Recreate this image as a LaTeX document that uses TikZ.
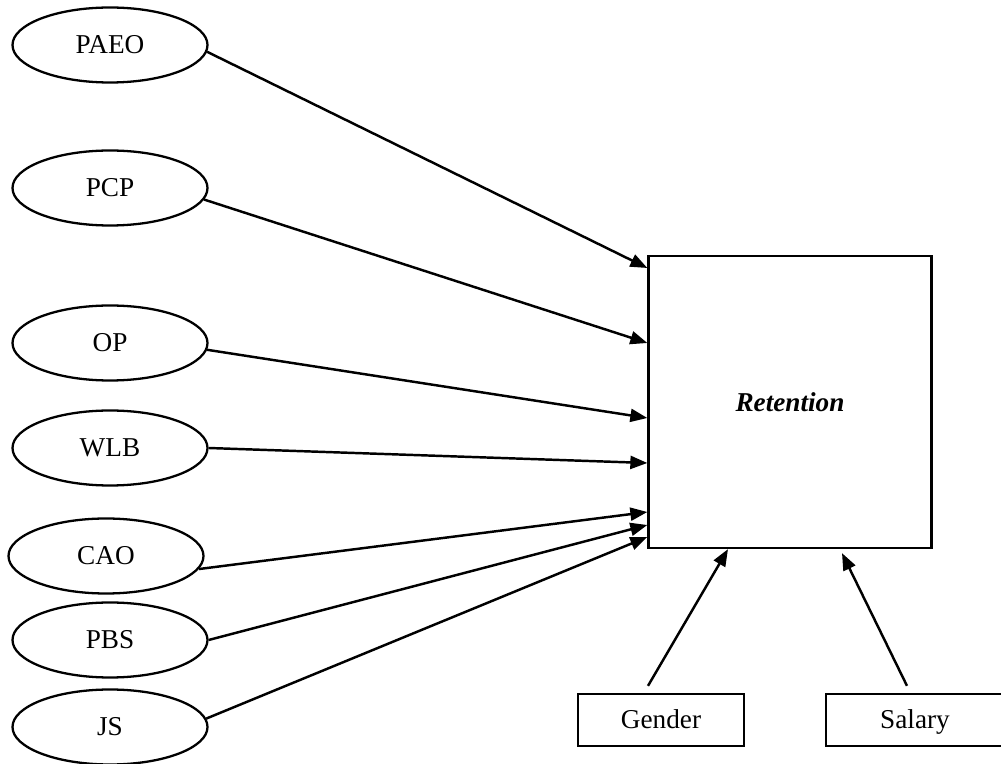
\documentclass[tikz,border=0pt]{standalone}
\usepackage{fontspec}
\setmainfont{Liberation Serif}
\usetikzlibrary{shapes.geometric,arrows.meta}

\begin{document}
\begin{tikzpicture}[
    every node/.style={font=\fontsize{15.5}{18}\selectfont},
    construct/.style={ellipse, draw=black, line width=1.3pt, minimum width=3.9cm, minimum height=1.5cm, inner sep=0pt},
    ctrl/.style={rectangle, draw=black, line width=1.3pt, minimum height=1.04cm, inner sep=0pt, text height=10.2pt, text depth=0pt},
    path/.style={line width=1.4pt, -{Triangle[length=0.34cm,width=0.26cm]}}
  ]
  \useasboundingbox (0,0) rectangle (20.02,15.26);

  \foreach \x\y\n in {2.2/14.36/PAEO,2.2/11.5/PCP,2.2/8.4/OP,2.2/6.3/WLB,2.12/4.14/CAO,2.2/2.46/PBS,2.2/0.72/JS} {
    \node[construct] (\n) at (\x,\y) {\n};
  }

  \node[rectangle, draw=black, line width=1.3pt, minimum width=5.66cm, minimum height=5.84cm,
    font=\fontsize{15.5}{18}\selectfont\bfseries\itshape] (Ret) at (15.8,7.22) {Retention};

  \node[ctrl, minimum width=3.32cm] (Gender) at (13.22,0.86) {Gender};
  \node[ctrl, minimum width=3.56cm] (Salary) at (18.3,0.86) {Salary};

  \draw[path] (PAEO.-4) -- ([yshift=2.68cm]Ret.west);
  \draw[path] (PCP.-7) -- ([yshift=1.18cm]Ret.west);
  \draw[path] (OP.-4) -- ([yshift=-0.32cm]Ret.west);
  \draw[path] (WLB.east) -- ([yshift=-1.22cm]Ret.west);
  \draw[path] (CAO.-8) -- ([yshift=-2.2cm]Ret.west);
  \draw[path] (PBS.east) -- ([yshift=-2.46cm]Ret.west);
  \draw[path] (JS.5) -- ([yshift=-2.7cm]Ret.west);

  \draw[path] ([xshift=-0.26cm,yshift=0.14cm]Gender.north) -- ([xshift=-1.24cm]Ret.south);
  \draw[path] ([xshift=-0.16cm,yshift=0.14cm]Salary.north) -- ([xshift=1.04cm,yshift=-0.08cm]Ret.south);
\end{tikzpicture}
\end{document}
